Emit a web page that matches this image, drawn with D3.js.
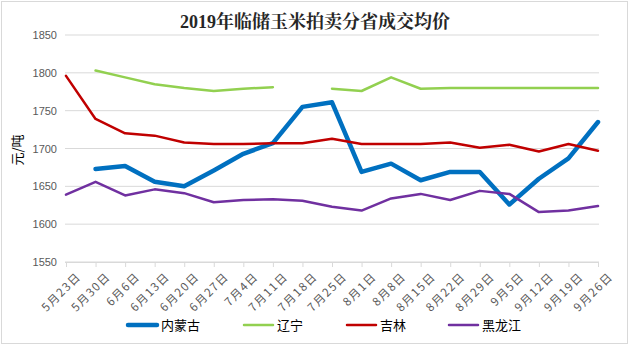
<!DOCTYPE html>
<html><head><meta charset="utf-8">
<script src="https://cdn.jsdelivr.net/npm/d3@7"></script>
<style>body{margin:0;background:#fff;}svg{display:block;}</style>
</head><body>
<svg id="c" width="630" height="347"></svg>
<script>
const categories = ["5月23日","5月30日","6月6日","6月13日","6月20日","6月27日","7月4日","7月11日","7月18日","7月25日","8月1日","8月8日","8月15日","8月22日","8月29日","9月5日","9月12日","9月19日","9月26日"];
const neimenggu = [null,1673,1677,1656,1650,1671,1693,1707,1755,1761,1669,1680,1658,1669,1669,1626,1660,1687,1735];
const liaoning = [null,1803,1794,1785,1780,1776,1779,1781,null,1779,1776,1794,1779,1780,1780,1780,1780,1780,1780];
const jilin = [1796,1739,1720,1717,1708,1706,1706,1707,1707,1713,1706,1706,1706,1708,1701,1705,1696,1706,1697];
const heilongjiang = [1639,1656,1638,1646,1641,1629,1632,1633,1631,1623,1618,1634,1640,1632,1644,1640,1616,1618,1624];
const yTicks = [1550,1600,1650,1700,1750,1800,1850];
const seriesNames = ["内蒙古","辽宁","吉林","黑龙江"];
const seriesColors = ["#0070C0","#92D050","#C00000","#7030A0"];
const seriesWidths = [4.5,2.5,2.5,2.5];
const seriesData = [neimenggu, liaoning, jilin, heilongjiang];

const svg = d3.select("#c");
svg.append("rect").attr("x",1.5).attr("y",1.5).attr("width",626).attr("height",342)
  .attr("fill","#fff").attr("stroke","#d9d9d9");

const x = d3.scalePoint().domain(categories).range([66,598]);
const y = d3.scaleLinear().domain([1550,1850]).range([262,35]);

// gridlines
svg.append("g").selectAll("line").data(yTicks).join("line")
  .attr("x1",65).attr("x2",599).attr("y1",d=>y(d)).attr("y2",d=>y(d))
  .attr("stroke","#d9d9d9").attr("stroke-width",1);

// y axis labels
const yAxis = d3.axisLeft(y).tickValues(yTicks).tickSize(0).tickPadding(3).tickFormat(d3.format("d"));
const gy = svg.append("g").attr("transform","translate(60,0)").call(yAxis);
gy.select(".domain").remove();
gy.selectAll("text").attr("font-family","Liberation Sans, Arial, sans-serif").attr("font-size",11).attr("fill","#595959");

// x axis
const xAxis = d3.axisBottom(x).tickSize(5).tickPadding(4);
const gx = svg.append("g").attr("transform","translate(0,262)").call(xAxis);
gx.select(".domain").attr("stroke","#d9d9d9").attr("d","M65,0.5H599");
gx.selectAll(".tick line").attr("stroke","#d9d9d9");
gx.selectAll("text")
  .attr("font-family","Noto Sans CJK SC, sans-serif").attr("font-size",11.5).attr("fill","#595959")
  .attr("letter-spacing","1.5px")
  .attr("text-anchor","end").attr("dy","0.35em")
  .attr("transform","translate(6,6) rotate(-45)");

// lines
const line = d3.line().defined(d=>d.v!=null).x(d=>x(d.c)).y(d=>y(d.v));
seriesData.forEach((arr,i)=>{
  const pts = arr.map((v,j)=>({c:categories[j],v:v}));
  svg.append("path").attr("d",line(pts)).attr("fill","none")
    .attr("stroke",seriesColors[i]).attr("stroke-width",seriesWidths[i])
    .attr("stroke-linejoin","round").attr("stroke-linecap","round");
});

// title
svg.append("text").attr("x",315).attr("y",28).attr("text-anchor","middle")
  .attr("font-family","Liberation Serif, Noto Serif CJK SC, Noto Sans CJK SC, serif")
  .attr("font-size",18).attr("font-weight","bold").attr("fill","#262626")
  .text("2019年临储玉米拍卖分省成交均价");

// y label
svg.append("text").attr("transform","translate(22,150) rotate(-90)").attr("text-anchor","middle")
  .attr("font-family","Noto Sans CJK SC, sans-serif").attr("font-size",13).attr("fill","#000")
  .text("元/吨");

// legend
const legX = [128,244,347,449];
seriesNames.forEach((n,i)=>{
  const g = svg.append("g").attr("transform",`translate(${legX[i]},325)`);
  g.append("line").attr("x1",0).attr("x2",29).attr("y1",0).attr("y2",0)
    .attr("stroke",seriesColors[i]).attr("stroke-width",seriesWidths[i]).attr("stroke-linecap","round");
  g.append("text").attr("x",33).attr("y",0).attr("dy","0.35em")
    .attr("font-family","Noto Sans CJK SC, sans-serif").attr("font-size",13).attr("fill","#000").text(n);
});
</script>
</body></html>
